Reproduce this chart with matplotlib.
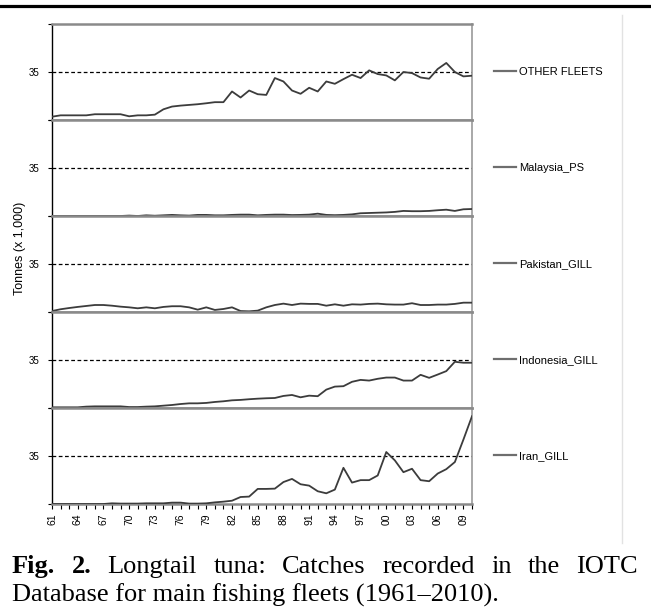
import matplotlib
matplotlib.use('Agg')
import matplotlib.pyplot as plt
from matplotlib.lines import Line2D
from matplotlib.ticker import FixedLocator, MultipleLocator

years = list(range(1961, 2011))

fleet_names = ['OTHER FLEETS', 'Malaysia_PS', 'Pakistan_GILL', 'Indonesia_GILL', 'Iran_GILL']

other_fleets = [2.4, 3.4, 3.4, 3.4, 3.4, 4.2, 4.2, 4.2, 4.2, 2.7,
                3.4, 3.4, 3.9, 7.8, 9.8, 10.5, 11.0, 11.5, 12.2, 13.0,
                13.0, 20.8, 16.4, 21.5, 18.8, 18.3, 30.6, 28.1, 21.5, 19.1,
                23.5, 20.8, 28.1, 26.4, 29.8, 33.0, 30.6, 36.2, 33.5, 32.5,
                28.9, 35.0, 34.2, 31.0, 30.1, 37.2, 41.6, 35.0, 31.8, 32.3]

malaysia_ps = [0, 0, 0, 0, 0, 0, 0, 0, 0, 0.3,
               0, 0.5, 0.2, 0.5, 0.8, 0.5, 0.3, 0.8, 0.8, 0.5,
               0.5, 0.8, 1.0, 1.0, 0.5, 0.8, 1.0, 1.0, 0.7, 0.8,
               1.0, 1.7, 0.8, 0.6, 0.8, 1.2, 2.0, 2.2, 2.4, 2.6,
               3.0, 3.7, 3.5, 3.5, 3.7, 4.2, 4.6, 3.7, 4.9, 5.1]

pakistan_gill = [0.7, 2.0, 2.9, 3.7, 4.4, 5.1, 5.1, 4.6, 3.9, 3.4,
                 2.7, 3.4, 2.7, 3.7, 4.2, 4.2, 3.4, 1.7, 3.4, 1.5,
                 2.2, 3.4, 0.7, 0.5, 1.0, 3.4, 5.1, 6.1, 5.1, 6.1,
                 5.9, 5.9, 4.6, 5.6, 4.6, 5.6, 5.4, 5.9, 6.1, 5.6,
                 5.4, 5.4, 6.4, 5.1, 5.1, 5.4, 5.4, 5.9, 6.8, 6.8]

indonesia_gill = [0.5, 0.5, 0.5, 0.5, 1.0, 1.2, 1.2, 1.2, 1.2, 0.7,
                  0.7, 1.0, 1.2, 1.7, 2.2, 2.9, 3.4, 3.4, 3.7, 4.4,
                  4.9, 5.6, 5.9, 6.4, 6.8, 7.1, 7.3, 8.8, 9.5, 7.8,
                  9.0, 8.6, 13.4, 15.6, 15.9, 19.1, 20.5, 20.0, 21.3, 22.2,
                  22.2, 20.0, 20.0, 24.2, 22.0, 24.4, 26.9, 33.7, 33.0, 33.0]

iran_gill = [0, 0, 0, 0, 0, 0, 0, 0.5, 0.3, 0.3,
             0.3, 0.5, 0.5, 0.5, 1.0, 1.0, 0.3, 0.3, 0.5, 1.2,
             1.7, 2.4, 5.1, 5.4, 11.0, 11.0, 11.2, 16.0, 18.3, 14.4,
             13.4, 9.3, 7.8, 10.5, 26.4, 15.6, 17.4, 17.4, 20.8, 37.9,
             31.8, 23.2, 25.7, 17.4, 16.6, 22.2, 25.4, 30.6, 47.0, 64.0]

series = [other_fleets, malaysia_ps, pakistan_gill, indonesia_gill, iran_gill]

x_tick_years = list(range(1961, 2011, 3))
x_tick_labels = ['%02d' % (y % 100) for y in x_tick_years]

caption_words = ['Fig.', '2.', 'Longtail', 'tuna:', 'Catches', 'recorded', 'in', 'the', 'IOTC']
caption_line2 = 'Database for main fishing fleets (1961\u20132010).'

plt.rcParams['font.family'] = ['Liberation Sans', 'DejaVu Sans']

W, H = 651, 611
fig, axes = plt.subplots(5, 1, sharex=True, figsize=(W / 100, H / 100), dpi=100)
fig.subplots_adjust(left=52 / W, right=472 / W, top=1 - 24 / H,
                    bottom=1 - 504 / H, hspace=0)

for i, (ax, name, vals) in enumerate(zip(axes, fleet_names, series)):
    ax.plot(years, vals, color='#3c3c3c', linewidth=1.3, zorder=3)
    ax.axhline(35, color='black', linestyle=(0, (3, 2)), linewidth=0.9, zorder=2)
    ax.set_ylim(0, 70)
    ax.set_xlim(1961, 2010)

    ax.yaxis.set_major_locator(FixedLocator([0, 35, 70]))
    ax.set_yticklabels(['', '35', ''])
    ax.tick_params(axis='y', direction='out', length=3, width=0.8,
                   labelsize=7, pad=6, colors='black')

    for side in ['top', 'bottom']:
        ax.spines[side].set_color('#8a8a8a')
        ax.spines[side].set_linewidth(1.8)
    ax.spines['right'].set_color('#9a9a9a')
    ax.spines['right'].set_linewidth(1.2)
    ax.spines['left'].set_color('black')
    ax.spines['left'].set_linewidth(1.0)

    legend_handle = Line2D([], [], color='#6e6e6e', linewidth=1.6)
    ax.legend([legend_handle], [name], loc='center left',
              bbox_to_anchor=(442 / 420, 0.5), frameon=False, fontsize=8,
              handlelength=2.0, handletextpad=0.25, borderpad=0, borderaxespad=0)

    if i < 4:
        ax.tick_params(axis='x', which='both', bottom=False, labelbottom=False)

bottom_ax = axes[-1]
bottom_ax.xaxis.set_major_locator(FixedLocator(x_tick_years))
bottom_ax.xaxis.set_minor_locator(MultipleLocator(1))
bottom_ax.set_xticklabels(x_tick_labels, rotation=90)
bottom_ax.tick_params(axis='x', which='both', direction='out', length=3.5,
                      width=0.8, labelsize=7.5, pad=3)

fig.text(20 / W, 1 - 248 / H, 'Tonnes (x 1,000)', rotation=90,
         ha='center', va='center', fontsize=9)

# frame lines of the page
fig.add_artist(Line2D([0, 1], [1 - 6 / H, 1 - 6 / H], color='black',
                      linewidth=2.3, transform=fig.transFigure))
fig.add_artist(Line2D([622 / W, 622 / W], [1 - 15 / H, 1 - 543 / H],
                      color='#e2e2e2', linewidth=1.0, transform=fig.transFigure))

# caption: first line justified between x=12 and x=638
cap_font = ['Liberation Serif', 'DejaVu Serif']
cap_size = 19
word_texts = []
for k, word in enumerate(caption_words):
    weight = 'bold' if k < 2 else 'normal'
    word_texts.append(fig.text(0, 1 - 573 / H, word, fontsize=cap_size, family=cap_font,
                               fontweight=weight, ha='left', va='baseline'))
renderer = fig.canvas.get_renderer()
widths = [t.get_window_extent(renderer).width for t in word_texts]
gap = (638 - 12 - sum(widths)) / (len(widths) - 1)
xpos = 12
for t, w in zip(word_texts, widths):
    t.set_x(xpos / W)
    xpos += w + gap

fig.text(12 / W, 1 - 602 / H, caption_line2, fontsize=cap_size, family=cap_font,
         ha='left', va='baseline')

fig.savefig('out.png', dpi=100)
